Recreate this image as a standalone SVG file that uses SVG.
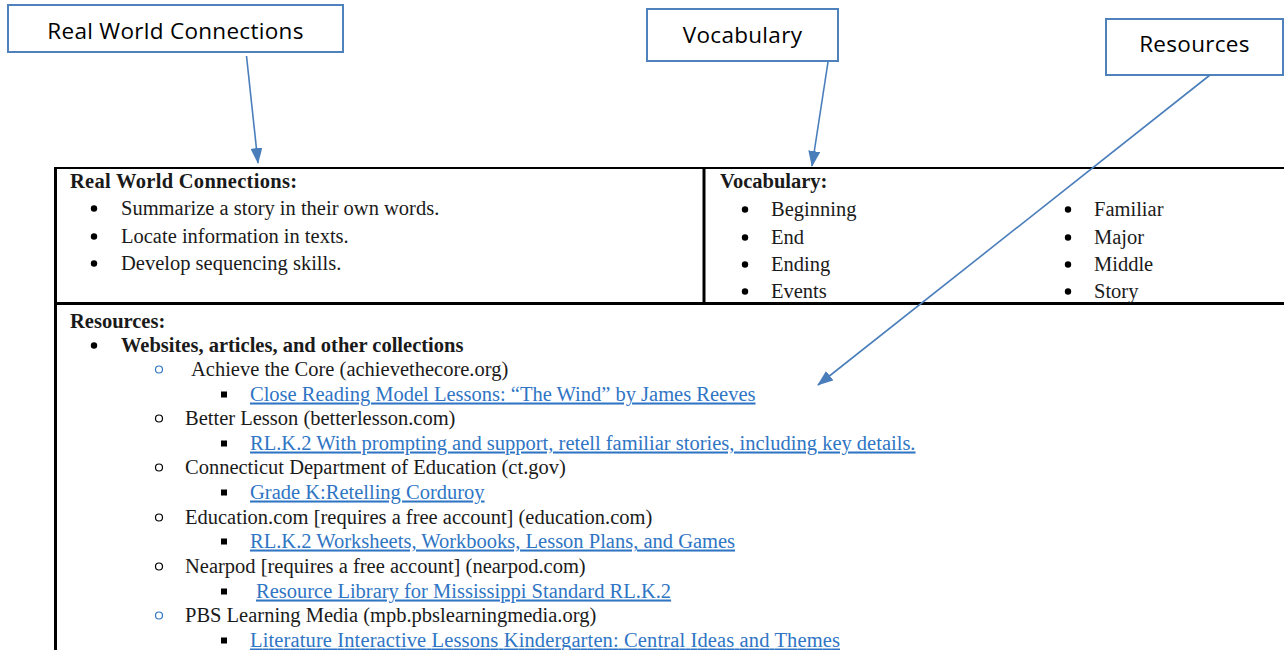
<svg xmlns="http://www.w3.org/2000/svg" width="1284" height="650" viewBox="0 0 1284 650">
<defs>
<marker id="ah" markerUnits="userSpaceOnUse" markerWidth="16" markerHeight="12" refX="15" refY="6" orient="auto">
<path d="M0,0 L16,6 L0,12 z" fill="#4a7ebb"/>
</marker>
<style>
.cbox{fill:#fff;stroke:#4f81bd;stroke-width:2}
.clab{font-family:"Open Sans",Lato,sans-serif;font-size:22.5px;letter-spacing:0.3px;fill:#000;text-anchor:middle}
.conn{stroke:#4a7ebb;stroke-width:1.6;fill:none;marker-end:url(#ah)}
.t{font-family:"Liberation Serif","Times New Roman",serif;font-size:20.5px;fill:#1a1a1a}
.b{font-weight:bold}
.lnk{fill:#2f75c4;text-decoration:underline}
.grid{stroke:#000;fill:none}
.dot{fill:#000}
.ring{fill:none;stroke:#000;stroke-width:1.2}
.ringb{fill:none;stroke:#2f75c4;stroke-width:1.2}
</style>
</defs>
<rect width="1284" height="650" fill="#fff"/>

<g id="table">
<line class="grid" x1="54" y1="168" x2="1284" y2="168" stroke-width="2"/>
<line class="grid" x1="55.5" y1="167" x2="55.5" y2="650" stroke-width="3"/>
<line class="grid" x1="704" y1="168" x2="704" y2="304" stroke-width="3"/>
<line class="grid" x1="54" y1="303.5" x2="1284" y2="303.5" stroke-width="3"/>
</g>

<g id="real-world-cell">
<text class="t b" x="70" y="187.5" textLength="227" lengthAdjust="spacing">Real World Connections:</text>
<circle class="dot" cx="94" cy="208.5" r="3.2"/>
<text class="t" x="121" y="214.5">Summarize a story in their own words.</text>
<circle class="dot" cx="94" cy="236.5" r="3.2"/>
<text class="t" x="121" y="242.5">Locate information in texts.</text>
<circle class="dot" cx="94" cy="263.5" r="3.2"/>
<text class="t" x="121" y="269.5">Develop sequencing skills.</text>
</g>

<g id="vocabulary-cell">
<text class="t b" x="720" y="187.5">Vocabulary:</text>
<circle class="dot" cx="745" cy="209.5" r="3.2"/>
<text class="t" x="771" y="215.5">Beginning</text>
<circle class="dot" cx="745" cy="237.5" r="3.2"/>
<text class="t" x="771" y="243.5">End</text>
<circle class="dot" cx="745" cy="264.5" r="3.2"/>
<text class="t" x="771" y="270.5">Ending</text>
<circle class="dot" cx="745" cy="291.5" r="3.2"/>
<text class="t" x="771" y="297.5">Events</text>
<circle class="dot" cx="1068" cy="209.5" r="3.2"/>
<text class="t" x="1094" y="215.5">Familiar</text>
<circle class="dot" cx="1068" cy="237.5" r="3.2"/>
<text class="t" x="1094" y="243.5">Major</text>
<circle class="dot" cx="1068" cy="264.5" r="3.2"/>
<text class="t" x="1094" y="270.5">Middle</text>
<circle class="dot" cx="1068" cy="291.5" r="3.2"/>
<text class="t" x="1094" y="297.5">Story</text>
</g>

<g id="resources-cell">
<text class="t b" x="70" y="327.5">Resources:</text>
<circle class="dot" cx="94" cy="345.5" r="3.2"/>
<text class="t b" x="121" y="351.5">Websites, articles, and other collections</text>

<circle class="ringb" cx="159" cy="369.5" r="3.5"/>
<text class="t" x="191" y="375.5">Achieve the Core (achievethecore.org)</text>
<rect class="dot" x="221" y="391.5" width="6" height="6"/>
<text class="t lnk" x="250" y="400.5">Close Reading Model Lessons: “The Wind” by James Reeves</text>

<circle class="ring" cx="159" cy="418.5" r="3.5"/>
<text class="t" x="185" y="424.5">Better Lesson (betterlesson.com)</text>
<rect class="dot" x="221" y="440.5" width="6" height="6"/>
<text class="t lnk" x="250" y="449.5">RL.K.2 With prompting and support, retell familiar stories, including key details.</text>

<circle class="ring" cx="159" cy="467.5" r="3.5"/>
<text class="t" x="185" y="473.5">Connecticut Department of Education (ct.gov)</text>
<rect class="dot" x="221" y="489.5" width="6" height="6"/>
<text class="t lnk" x="250" y="498.5">Grade K:Retelling Corduroy</text>

<circle class="ring" cx="159" cy="517.5" r="3.5"/>
<text class="t" x="185" y="523.5">Education.com [requires a free account] (education.com)</text>
<rect class="dot" x="221" y="538.5" width="6" height="6"/>
<text class="t lnk" x="250" y="547.5">RL.K.2 Worksheets, Workbooks, Lesson Plans, and Games</text>

<circle class="ring" cx="159" cy="566.5" r="3.5"/>
<text class="t" x="185" y="572.5">Nearpod [requires a free account] (nearpod.com)</text>
<rect class="dot" x="221" y="588.5" width="6" height="6"/>
<text class="t lnk" x="256" y="597.5">Resource Library for Mississippi Standard RL.K.2</text>

<circle class="ringb" cx="159" cy="615.5" r="3.5"/>
<text class="t" x="185" y="621.5">PBS Learning Media (mpb.pbslearningmedia.org)</text>
<rect class="dot" x="221" y="637.5" width="6" height="6"/>
<text class="t lnk" x="250" y="646.5" textLength="590" lengthAdjust="spacing">Literature Interactive Lessons Kindergarten: Central Ideas and Themes</text>
</g>

<g id="callout-real-world">
<rect class="cbox" x="8" y="5" width="335" height="47"/>
<text class="clab" x="175.5" y="39">Real World Connections</text>
</g>
<g id="callout-vocabulary">
<rect class="cbox" x="647" y="9" width="191" height="52"/>
<text class="clab" x="742.5" y="43">Vocabulary</text>
</g>
<g id="callout-resources">
<rect class="cbox" x="1106" y="19" width="177" height="56"/>
<text class="clab" x="1194.5" y="52">Resources</text>
</g>

<g id="connectors">
<line class="conn" x1="246.5" y1="56" x2="258" y2="163"/>
<line class="conn" x1="828" y1="62" x2="812" y2="166"/>
<line class="conn" x1="1210" y1="75" x2="818" y2="385"/>
</g>
</svg>
